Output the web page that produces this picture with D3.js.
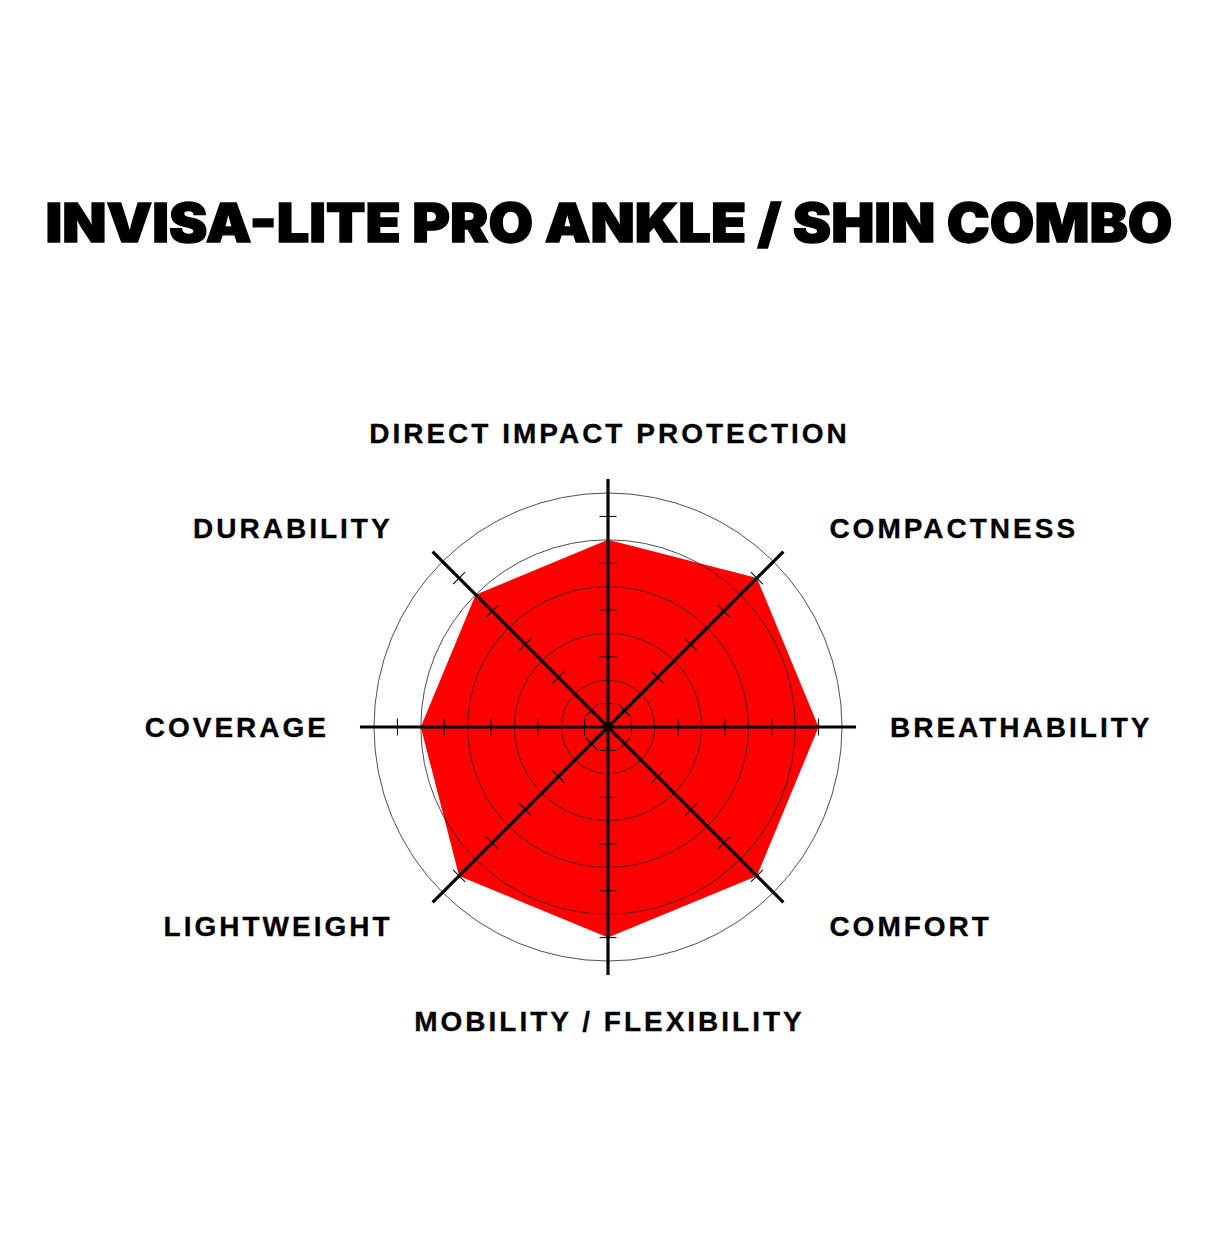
<!DOCTYPE html>
<html>
<head>
<meta charset="utf-8">
<script src="https://cdn.jsdelivr.net/npm/d3@7"></script>
<style>
  body { margin: 0; background: #fff; }
  svg { display: block; }
</style>
</head>
<body>
<svg width="1219" height="1233"></svg>
<script>
// chart data
var title = "INVISA-LITE PRO ANKLE / SHIN COMBO";
var categories = ["DIRECT IMPACT PROTECTION", "COMPACTNESS", "BREATHABILITY", "COMFORT",
                  "MOBILITY / FLEXIBILITY", "LIGHTWEIGHT", "COVERAGE", "DURABILITY"];
var scores = [4, 4.5, 4.5, 4.5, 4.5, 4.5, 4, 4];
var ringValues = [1, 2, 3, 4, 5];
var tickValues = [0.5, 1.5, 2.5, 3.5, 4.5];

var svg = d3.select("svg"),
    cx = 608, cy = 727,
    g = svg.append("g").attr("transform", "translate(" + cx + "," + cy + ")");

// radial scale, 0..5 out to the outer ring
var r = d3.scaleLinear().domain([0, 5]).range([0, 234]);

// angle for each category, clockwise from the top
function ang(c) { return categories.indexOf(c) * 2 * Math.PI / categories.length; }

// title
svg.append("text")
    .attr("x", 609)
    .attr("y", 242)
    .attr("text-anchor", "middle")
    .attr("font-family", "Inter, 'Liberation Sans', sans-serif")
    .attr("font-weight", 900)
    .attr("font-size", 53)
    .attr("stroke", "#000")
    .attr("stroke-width", 1.4)
    .attr("textLength", 1127)
    .attr("lengthAdjust", "spacingAndGlyphs")
    .text(title);

// filled score polygon
var radar = d3.lineRadial()
    .angle(function(d, i) { return ang(categories[i]); })
    .radius(function(d) { return r(d); })
    .curve(d3.curveLinearClosed);

g.append("path")
    .datum(scores)
    .attr("d", radar)
    .attr("fill", "#ff0000");

// rings
g.append("g")
  .selectAll("circle")
  .data(ringValues)
  .enter().append("circle")
    .attr("r", r)
    .attr("fill", "none")
    .attr("stroke", "#222")
    .attr("stroke-width", 0.8);

// axes with small ticks
var axis = g.append("g")
  .selectAll("g")
  .data(categories)
  .enter().append("g")
    .attr("transform", function(d) { return "rotate(" + (ang(d) * 180 / Math.PI) + ")"; });

axis.selectAll("line.tick")
    .data(tickValues)
  .enter().append("line")
    .attr("class", "tick")
    .attr("x1", -8.5).attr("x2", 8.5)
    .attr("y1", function(d) { return -r(d); })
    .attr("y2", function(d) { return -r(d); })
    .attr("stroke", "#000")
    .attr("stroke-width", 1);

axis.append("line")
    .attr("x1", 0).attr("y1", 0)
    .attr("x2", 0).attr("y2", -r(5.3))
    .attr("stroke", "#000")
    .attr("stroke-width", 3.2);

// category labels
var ls = 3;
svg.append("g")
    .attr("font-family", "'Liberation Sans', Arial, sans-serif")
    .attr("font-weight", "bold")
    .attr("font-size", 28)
    .attr("letter-spacing", ls)
    .attr("fill", "#000")
    .attr("stroke", "#000")
    .attr("stroke-width", 0.3)
  .selectAll("text")
  .data(categories)
  .enter().append("text")
    .attr("x", function(d) {
      var a = ang(d), s = Math.sin(a);
      if (Math.abs(s) < 1e-6) return cx + ls / 2;
      var diag = Math.abs(Math.cos(a)) > 0.1;
      return cx + 282 * s + (diag ? (s > 0 ? 22 : -19) : 0) + (s < 0 ? ls : 0);
    })
    .attr("y", function(d) {
      var a = ang(d), c = Math.cos(a);
      var rr = Math.abs(Math.sin(a)) < 1e-6 ? 294 : 282;
      return cy - rr * c + 10;
    })
    .attr("text-anchor", function(d) {
      var s = Math.sin(ang(d));
      return Math.abs(s) < 1e-6 ? "middle" : (s > 0 ? "start" : "end");
    })
    .text(function(d) { return d; });
</script>
</body>
</html>
